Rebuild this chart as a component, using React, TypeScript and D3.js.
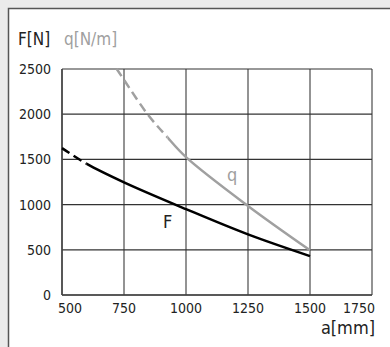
import React from "react";
import * as d3 from "d3";

const xTicks = [500, 750, 1000, 1250, 1500, 1750];
const yTicks = [0, 500, 1000, 1500, 2000, 2500];

const fA = [500, 600, 750, 1000, 1250, 1500];
const fV = [1625, 1450, 1246, 950, 670, 430];
const fDashEnd = 600;

const qA = [720, 750, 845, 920, 1000, 1250, 1500];
const qV = [2503, 2380, 2000, 1760, 1525, 985, 495];
const qDashEnd = 925;

const W = 390, H = 347;
const FONT = "'DejaVu Sans Condensed', 'DejaVu Sans', sans-serif";

export default function App() {
  const x = d3.scaleLinear().domain([500, 1750]).range([62, 372]);
  const y = d3.scaleLinear().domain([0, 2500]).range([295, 69]);
  const line = d3
    .line<[number, number]>()
    .x((d) => x(d[0]))
    .y((d) => y(d[1]))
    .curve(d3.curveCatmullRom.alpha(0.5));
  const fPath = line(fA.map((a, i) => [a, fV[i]] as [number, number])) || "";
  const qPath = line(qA.map((a, i) => [a, qV[i]] as [number, number])) || "";

  return (
    <svg
      width={W}
      height={H}
      style={{ position: "absolute", left: 0, top: 0, fontFamily: FONT }}
    >
      <defs>
        <clipPath id="fDash"><rect x={0} y={0} width={x(fDashEnd)} height={H} /></clipPath>
        <clipPath id="fSolid"><rect x={x(fDashEnd)} y={0} width={W} height={H} /></clipPath>
        <clipPath id="qDash"><rect x={0} y={0} width={x(qDashEnd)} height={H} /></clipPath>
        <clipPath id="qSolid"><rect x={x(qDashEnd)} y={0} width={W} height={H} /></clipPath>
      </defs>
      <rect x={0} y={0} width={W} height={H} fill="#ebebeb" />
      <rect x={8.5} y={8.5} width={W} height={H} fill="#fff" stroke="#555" strokeWidth={1.5} />

      {xTicks.map((t) => (
        <line key={"vx" + t} x1={x(t)} x2={x(t)} y1={y(2500)} y2={y(0)} stroke="#6f6f6f" strokeWidth={1.5} />
      ))}
      {yTicks.map((t) => (
        <line key={"hy" + t} x1={x(500)} x2={x(1750)} y1={y(t)} y2={y(t)} stroke="#333" strokeWidth={1.2} />
      ))}
      <line x1={x(500)} x2={x(500)} y1={y(2500)} y2={y(0)} stroke="#444" strokeWidth={1.5} />
      <line x1={x(500)} x2={x(1750)} y1={y(0)} y2={y(0)} stroke="#444" strokeWidth={1.5} />

      <path d={qPath} fill="none" stroke="#a0a0a0" strokeWidth={2.5} strokeDasharray="9,5" clipPath="url(#qDash)" />
      <path d={qPath} fill="none" stroke="#a0a0a0" strokeWidth={2.5} clipPath="url(#qSolid)" />
      <path d={fPath} fill="none" stroke="#000" strokeWidth={2.5} strokeDasharray="9,5" clipPath="url(#fDash)" />
      <path d={fPath} fill="none" stroke="#000" strokeWidth={2.5} clipPath="url(#fSolid)" />

      {yTicks.map((t) => (
        <text key={"yl" + t} x={51} y={y(t)} dy="0.36em" textAnchor="end" fontSize={14} fill="#222">
          {t}
        </text>
      ))}
      {xTicks.map((t, i) => (
        <text
          key={"xl" + t}
          x={i === 0 ? x(t) - 4 : i === xTicks.length - 1 ? x(t) + 3 : x(t)}
          y={313}
          textAnchor={i === 0 ? "start" : i === xTicks.length - 1 ? "end" : "middle"}
          fontSize={14}
          fill="#222"
        >
          {t}
        </text>
      ))}
      <text x={375} y={334} textAnchor="end" fontSize={18} fill="#222">a[mm]</text>
      <text x={18} y={45} fontSize={17} fill="#222">F[N]</text>
      <text x={64} y={45} fontSize={17} fill="#a0a0a0">q[N/m]</text>
      <text x={163} y={228} fontSize={18} fill="#222">F</text>
      <text x={227} y={181} fontSize={18} fill="#a0a0a0">q</text>
    </svg>
  );
}
